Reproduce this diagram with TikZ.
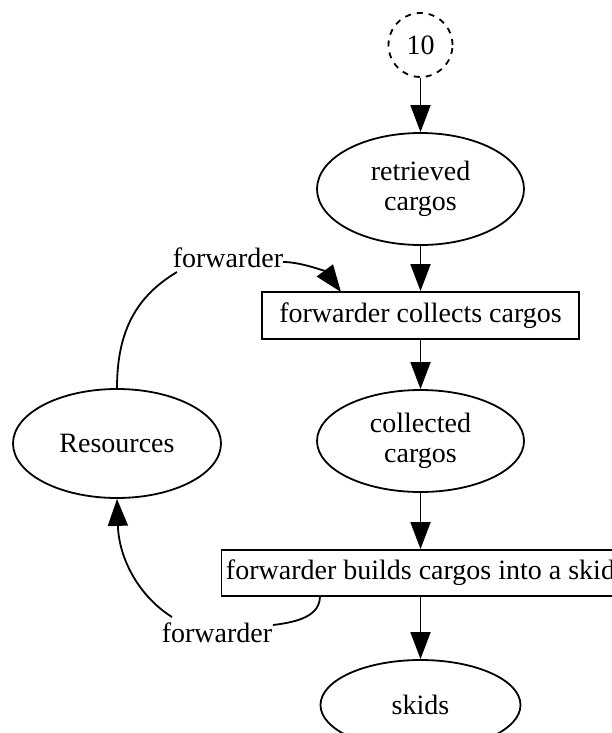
\documentclass[tikz,border=0pt]{standalone}
\usepackage{fontspec}
\setmainfont{Liberation Serif}
\usetikzlibrary{arrows.meta,shapes.geometric}
\begin{document}
\begin{tikzpicture}[x=0.5pt,y=-0.5pt,
  every node/.style={font=\fontsize{14pt}{15pt}\selectfont, inner sep=0pt},
  oval/.style={draw, ellipse, line width=0.9pt, align=center},
  stepbox/.style={draw, rectangle, line width=0.9pt},
  edge/.style={draw, line width=0.9pt},
  flow/.style={edge, -{Triangle[length=13.5pt,width=10pt]}}]
\useasboundingbox (0,0) rectangle (611,733);

% process nodes
\node[draw, circle, dashed, line width=0.9pt, minimum size=32pt] (n10) at (420.5,45) {10};
\node[oval, minimum width=103.5pt, minimum height=56pt] (ret) at (420.5,189) {retrieved\\cargos};
\node[stepbox, minimum width=158.5pt, minimum height=23.5pt] (collect) at (420.5,315.5) {forwarder collects cargos};
\node[oval, minimum width=103.5pt, minimum height=51pt] (coll) at (420.5,441) {collected\\cargos};
\node[stepbox, minimum width=199pt, minimum height=23pt] (build) at (420.5,573) {forwarder builds cargos into a skid};
\node[oval, minimum width=100pt, minimum height=45pt] (skids) at (420.5,705) {skids};
\node[oval, minimum width=104pt, minimum height=54.5pt] (res) at (117,443.5) {Resources};

% edge labels
\node (fwA) at (228,258) {forwarder};
\node (fwB) at (217,633) {forwarder};
\coordinate (fwAin) at (177,272);
\coordinate (fwAout) at (283,262);
\coordinate (fwBin) at (273,625);
\coordinate (fwBout) at (172,617);
\coordinate (collectin) at (341,292);
\coordinate (buildout) at (320,596);

% main flow
\draw[flow] (n10) -- (ret);
\draw[flow] (ret) -- (collect);
\draw[flow] (collect) -- (coll);
\draw[flow] (coll) -- (build);
\draw[flow] (build) -- (skids);

% resource edges
\draw[edge] (res.north) .. controls (117,330) and (137,296) .. (fwAin);
\draw[flow] (fwAout) .. controls (302,262) and (326,272) .. (collectin);
\draw[edge] (buildout) .. controls (320,616) and (298,622) .. (fwBin);
\draw[flow] (fwBout) .. controls (140,597) and (119,560) .. (res.south);
\end{tikzpicture}
\end{document}
